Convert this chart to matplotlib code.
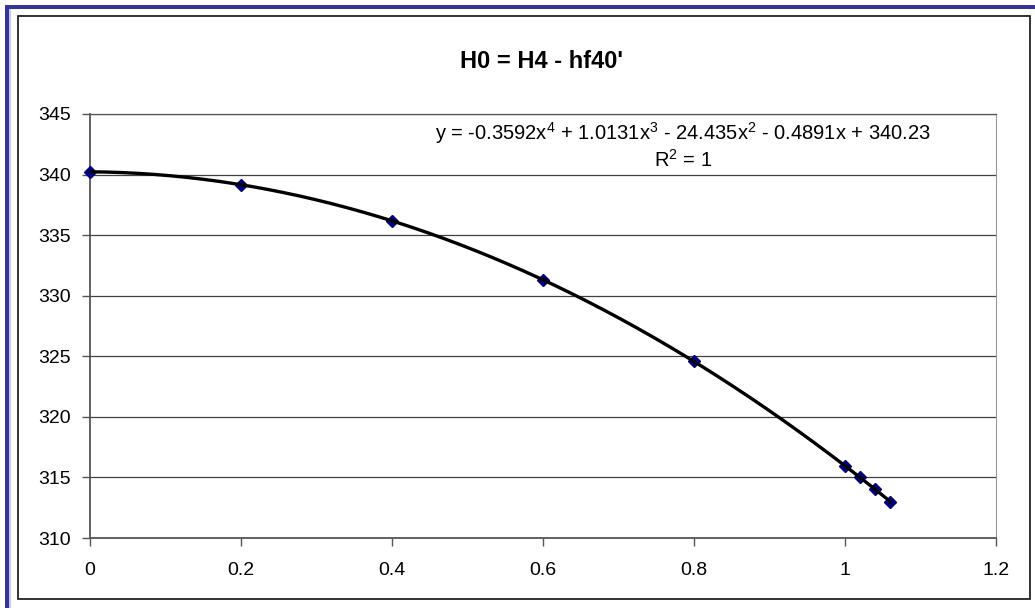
import numpy as np
import matplotlib
matplotlib.use("Agg")
import matplotlib.pyplot as plt
from matplotlib.patches import Rectangle

# data
x_vals = [0, 0.2, 0.4, 0.6, 0.8, 1.0, 1.02, 1.04, 1.06]
h0_vals = [340.23, 339.16, 336.18, 331.31, 324.57, 315.96, 315.0, 314.01, 313.01]
# trendline coefficients, as printed on the chart (x^4 .. x^0)
trend_coef = [-0.3592, 1.0131, -24.435, -0.4891, 340.23]
x_ticks = [0, 0.2, 0.4, 0.6, 0.8, 1, 1.2]
x_tick_labels = ["0", "0.2", "0.4", "0.6", "0.8", "1", "1.2"]
y_ticks = [310, 315, 320, 325, 330, 335, 340, 345]
title = "H0 = H4 - hf40'"
eq_text = "y = -0.3592x$^4$ + 1.0131x$^3$ - 24.435x$^2$ - 0.4891x + 340.23"
r2_text = "R$^2$ = 1"

plt.rcParams["font.family"] = ["Liberation Sans", "DejaVu Sans"]
plt.rcParams["mathtext.fontset"] = "custom"
plt.rcParams["mathtext.rm"] = "Liberation Sans"

W, H = 1035, 608
fig = plt.figure(figsize=(W / 100, H / 100), dpi=100)
ax = fig.add_axes([90 / W, 1 - 538 / H, (996 - 90) / W, (538 - 114) / H])

# frame decorations (Excel-like chart border)
fig.add_artist(Rectangle((5 / W, 1 - 9 / H), 1 - 5 / W, 4 / H, transform=fig.transFigure,
                         facecolor="#333399", edgecolor="none"))
fig.add_artist(Rectangle((5 / W, 0), 4 / W, 1 - 5 / H, transform=fig.transFigure,
                         facecolor="#333399", edgecolor="none"))
fig.add_artist(Rectangle((9 / W, 0), 2 / W, 1 - 9 / H, transform=fig.transFigure,
                         facecolor="#c8c8ec", edgecolor="none"))
fig.add_artist(Rectangle((18 / W, 1 - 599 / H), (1030 - 18) / W, (599 - 16) / H,
                         transform=fig.transFigure, facecolor="none",
                         edgecolor="#222222", linewidth=1.3))

# series markers + 4th order trendline
ax.plot(x_vals, h0_vals, color="#000080", linestyle="none", marker="D",
        markersize=6, zorder=3, clip_on=False)
xs = np.linspace(min(x_vals), max(x_vals), 200)
ax.plot(xs, np.polyval(trend_coef, xs), color="black", linewidth=2.4, zorder=4)

ax.set_xlim(0, 1.2)
ax.set_ylim(310, 345)
ax.set_xticks(x_ticks)
ax.set_xticklabels(x_tick_labels)
ax.set_yticks(y_ticks)
ax.yaxis.grid(True, color="#404040", linewidth=0.9)
ax.set_axisbelow(True)
ax.tick_params(axis="both", direction="out", length=6, width=1, color="#555555",
               labelsize=14)
ax.tick_params(axis="x", pad=11)
ax.tick_params(axis="y", pad=8)
for side in ["left", "bottom"]:
    ax.spines[side].set_color("#555555")
    ax.spines[side].set_linewidth(1.3)
ax.spines["right"].set_color("#999999")
ax.spines["top"].set_color("#555555")
ax.spines["top"].set_linewidth(0.9)

fig.text(542 / W, 1 - 62 / H, title, ha="center", va="center",
         fontsize=17, fontweight="bold")
fig.text(683 / W, 1 - 133 / H, eq_text, ha="center", va="center", fontsize=14.5)
fig.text(683 / W, 1 - 160 / H, r2_text, ha="center", va="center", fontsize=14.5)

fig.savefig("out.png", dpi=100)
